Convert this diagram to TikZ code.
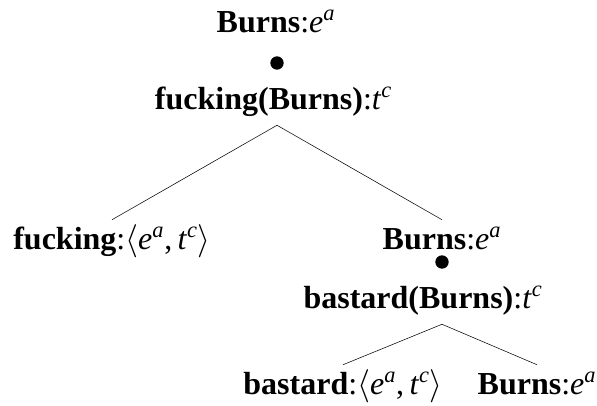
\documentclass[tikz,border=0pt]{standalone}
\usepackage{fontspec}
\setmainfont{Liberation Serif}
\newcommand{\sem}[2]{\textit{#1}\textsuperscript{\textit{#2}}}
\newcommand{\pair}[2]{$\langle$#1,\,#2$\rangle$}
\tikzset{
  lbl/.style={anchor=base, inner xsep=0pt, inner ysep=5pt, text height=17.5pt, text depth=6.25pt,
    font=\fontsize{24}{28}\selectfont},
  dot/.style={circle, fill=black, inner sep=0pt, minimum size=10pt}
}
\begin{document}
\begin{tikzpicture}[x=0.75pt,y=0.75pt,yscale=-1,xscale=1]
        \useasboundingbox (0,0) rectangle (597,406);

        %Top part
        \node[lbl] (topburns) at (276,33) {\textbf{Burns}:\sem{e}{a}};
        \node[dot] (dotone) at (277,63) {};
        \node[lbl] (fburns) at (273.5,110) {\textbf{fucking(Burns)}:\sem{t}{c}};

        %Children of fucking(Burns)
        \node[lbl] (fucking) at (112,250) {\textbf{fucking}:\pair{\sem{e}{a}}{\sem{t}{c}}};
        \node[lbl] (midburns) at (442,250) {\textbf{Burns}:\sem{e}{a}};
        \node[dot] (dottwo) at (442,262) {};
        \node[lbl] (bburns) at (423,309) {\textbf{bastard(Burns)}:\sem{t}{c}};

        %Children of bastard(Burns)
        \node[lbl] (bastard) at (343,395) {\textbf{bastard}:\pair{\sem{e}{a}}{\sem{t}{c}}};
        \node[lbl] (lowburns) at (537,395) {\textbf{Burns}:\sem{e}{a}};

        %Straight Lines
        \draw (dotone |- fburns.south) -- (fucking.north);
        \draw (dotone |- fburns.south) -- (midburns.north);
        \draw (dottwo |- bburns.south) -- (bastard.north);
        \draw (dottwo |- bburns.south) -- (lowburns.north);

\end{tikzpicture}
\end{document}
